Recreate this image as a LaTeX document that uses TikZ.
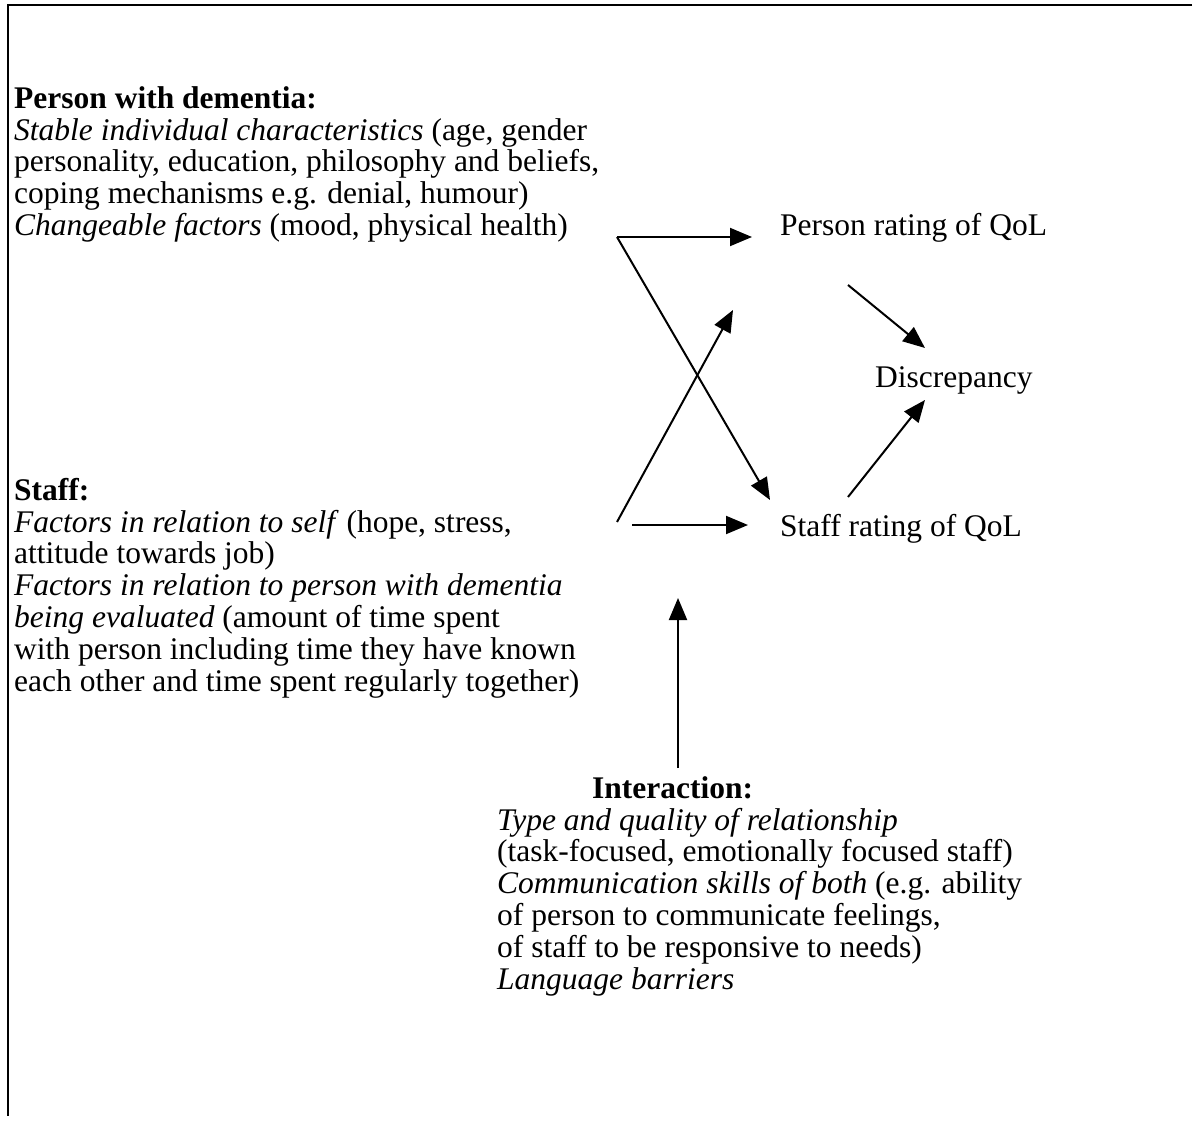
\documentclass[tikz,border=0pt]{standalone}
\usepackage{fontspec}
\setmainfont{Liberation Serif}
\usetikzlibrary{arrows.meta}
\begin{document}
\begin{tikzpicture}[x=1pt,y=-1pt,
  txt/.style={inner sep=0pt,anchor=base west,align=left,font=\fontsize{31.5}{31.8}\selectfont},
  arr/.style={line width=2pt,-{Triangle[length=22pt,width=18pt]}},
  frame/.style={line width=2.5pt}]
\useasboundingbox (0,0) rectangle (1200,1126);
\draw[frame] (1192,5) -- (8,5) -- (8,1116);
% left blocks (anchored at the baseline of the last line)
\node[txt] (pwd) at (14,235.5) {\textbf{Person with dementia:}\\
\textit{Stable individual characteristics} (age, gender\\
personality, education, philosophy and beliefs,\\
coping mechanisms e.g. denial, humour)\\
\textit{Changeable factors} (mood, physical health)};
\node[txt] (staff) at (14,691) {\textbf{Staff:}\\
\textit{Factors in relation to self} (hope, stress,\\
attitude towards job)\\
\textit{Factors in relation to person with dementia}\\
\textit{being evaluated} (amount of time spent\\
with person including time they have known\\
each other and time spent regularly together)};
\node[txt] (inthead) at (592,798) {\textbf{Interaction:}};
\node[txt] (int) at (497,989) {\textit{Type and quality of relationship}\\
(task-focused, emotionally focused staff)\\
\textit{Communication skills of both} (e.g. ability\\
of person to communicate feelings,\\
of staff to be responsive to needs)\\
\textit{Language barriers}};
% right nodes
\node[txt] (prq) at (780,236) {Person rating of QoL};
\node[txt] (disc) at (875,387) {Discrepancy};
\node[txt] (srq) at (780,536) {Staff rating of QoL};
% connector points
\coordinate (a) at (617,237);
\coordinate (a1) at (752,237);
\coordinate (a2) at (770,500);
\coordinate (b) at (617,522);
\coordinate (b1) at (733,310);
\coordinate (c) at (632,525);
\coordinate (c1) at (748,525);
\coordinate (p0) at (848,285);
\coordinate (p1) at (925,348);
\coordinate (s0) at (848,497);
\coordinate (s1) at (925,400);
\coordinate (i0) at (678,768);
\coordinate (i1) at (678,598);
\draw[arr] (a) -- (a1);
\draw[arr] (a) -- (a2);
\draw[arr] (b) -- (b1);
\draw[arr] (c) -- (c1);
\draw[arr] (p0) -- (p1);
\draw[arr] (s0) -- (s1);
\draw[arr] (i0) -- (i1);
\end{tikzpicture}
\end{document}
